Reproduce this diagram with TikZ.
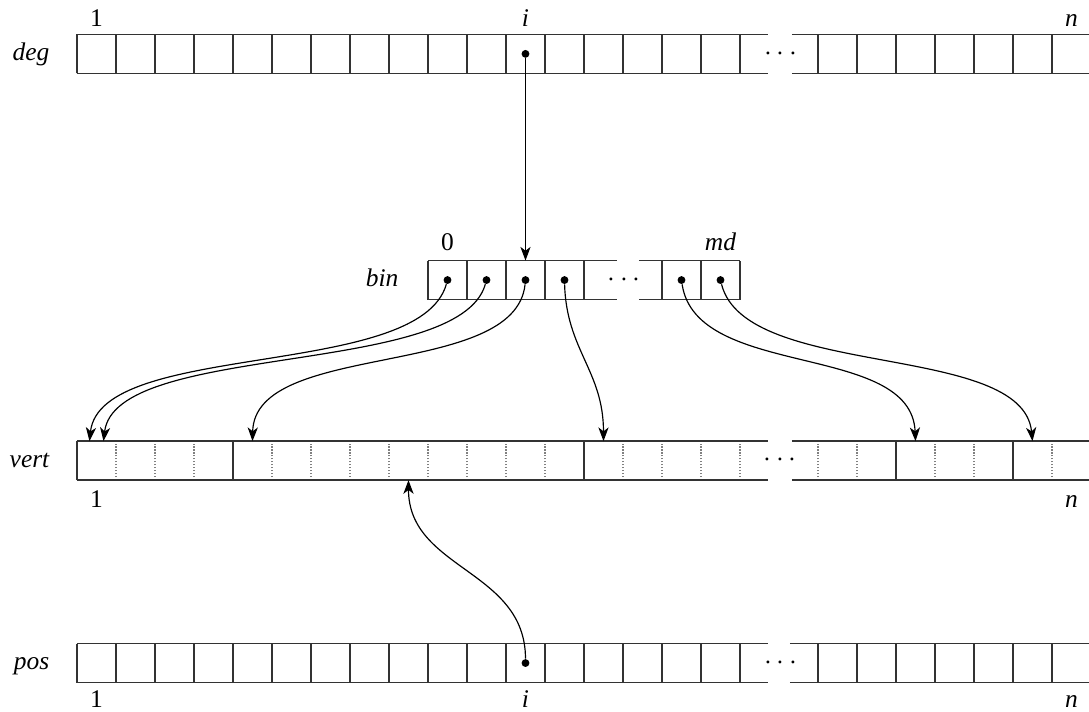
\documentclass[tikz,border=0pt]{standalone}
\usepackage{fontspec}
\setmainfont{Liberation Serif}
\usetikzlibrary{arrows.meta}
\begin{document}
\begin{tikzpicture}[
  arrlabel/.style={anchor=base east, inner sep=0pt, font=\fontsize{13}{15}\selectfont\itshape},
  idxlabel/.style={anchor=base, inner sep=0pt, font=\fontsize{13}{15}\selectfont},
  ptrdot/.style={circle, fill=black, inner sep=0pt, minimum size=4pt},
  ptr/.style={draw=black, line width=0.6pt, -{Stealth[length=7pt,width=5.2pt,inset=2pt]}},
  gapdots/.style={inner sep=0pt, font=\fontsize{14}{16}\selectfont}
]
% Cell arrays deg, bin, vert, pos; one unit is one cell
\def\cellsz{0.7cm}
\providecommand{\arrLineColor}{black!80}
\providecommand{\arrSepColor}{black!50}
\providecommand{\arrLineWidth}{0.8pt}
\begin{scope}[x=\cellsz, y=\cellsz, line cap=butt, line join=miter]
  \useasboundingbox (-1.974,0) rectangle (25.949,18.231);
  % deg
  \begin{scope}[draw=\arrLineColor, line width=\arrLineWidth, shift={(0,16.35)}]
    \draw[step=1] (0,0) grid (17,1);
    \draw (17,0) -- (17.72,0) (17,1) -- (17.72,1);
    \draw (18.33,0) -- (19,0) (18.33,1) -- (19,1);
    \draw[step=1] (19,0) grid (26,1);
  \end{scope}
  % bin
  \begin{scope}[draw=\arrLineColor, line width=\arrLineWidth, shift={(0,10.55)}]
    \draw[step=1] (9,0) grid (13,1);
    \draw (13,0) -- (13.85,0) (13,1) -- (13.85,1);
    \draw (14.41,0) -- (15,0) (14.41,1) -- (15,1);
    \draw[step=1] (15,0) grid (17,1);
  \end{scope}
  % vert: dotted cells, solid bucket borders
  \begin{scope}[shift={(0,5.92)}]
    \draw[step=1, draw=\arrSepColor, line width=0.55pt, dash pattern=on 0.6pt off 0.9pt] (0,0.08) grid (17,0.92);
    \draw[step=1, draw=\arrSepColor, line width=0.55pt, dash pattern=on 0.6pt off 0.9pt] (19,0.08) grid (26,0.92);
    \begin{scope}[draw=\arrLineColor, line width=\arrLineWidth]
      \draw (0,0) -- (17.72,0) (0,1) -- (17.72,1);
      \draw (18.33,0) -- (26,0) (18.33,1) -- (26,1);
      \draw (0,0) -- (0,1) (4,0) -- (4,1) (13,0) -- (13,1) (21,0) -- (21,1) (24,0) -- (24,1);
    \end{scope}
  \end{scope}
  % pos
  \begin{scope}[draw=\arrLineColor, line width=\arrLineWidth, shift={(0,0.73)}]
    \draw[step=1] (0,0) grid (17,1);
    \draw (17,0) -- (17.72,0) (17,1) -- (17.72,1);
    \draw (18.28,0) -- (19,0) (18.28,1) -- (19,1);
    \draw[step=1] (19,0) grid (26,1);
  \end{scope}
  % Names and indices
  \node[arrlabel] (degname) at (-0.7,16.68) {deg};
  \node[arrlabel] (binname) at (8.25,10.88) {bin};
  \node[arrlabel] (vertname) at (-0.7,6.25) {vert};
  \node[arrlabel] (posname) at (-0.7,1.06) {pos};
  \node[idxlabel] (degfirst) at (0.5,17.55) {1};
  \node[idxlabel] (degidx) at (11.5,17.55) {\itshape i};
  \node[idxlabel] (deglast) at (25.5,17.55) {\itshape n};
  \node[idxlabel] (binfirst) at (9.5,11.8) {0};
  \node[idxlabel] (binlast) at (16.5,11.8) {\itshape md};
  \node[idxlabel] (vertfirst) at (0.5,5.21) {1};
  \node[idxlabel] (vertlast) at (25.5,5.21) {\itshape n};
  \node[idxlabel] (posfirst) at (0.5,0.08) {1};
  \node[idxlabel] (posidx) at (11.5,0.08) {\itshape i};
  \node[idxlabel] (poslast) at (25.5,0.08) {\itshape n};
  % Gaps
  \node[gapdots] (deggap) at (18.05,16.85) {$\cdots$};
  \node[gapdots] (bingap) at (14.03,11.05) {$\cdots$};
  \node[gapdots] (vertgap) at (18.03,6.42) {$\cdots$};
  \node[gapdots] (posgap) at (18.05,1.23) {$\cdots$};
  % Pointer cells
  \node[ptrdot] (degi) at (11.5,16.85) {};
  \node[ptrdot] (bin0) at (9.5,11.05) {};
  \node[ptrdot] (bin1) at (10.5,11.05) {};
  \node[ptrdot] (bin2) at (11.5,11.05) {};
  \node[ptrdot] (bin3) at (12.5,11.05) {};
  \node[ptrdot] (binmm) at (15.5,11.05) {};
  \node[ptrdot] (binmd) at (16.5,11.05) {};
  \node[ptrdot] (posi) at (11.5,1.23) {};
  \coordinate (bintop) at (11.5,11.55);
  \coordinate (vt0) at (0.32,6.92);
  \coordinate (vt1) at (0.68,6.92);
  \coordinate (vt2) at (4.5,6.92);
  \coordinate (vt3) at (13.5,6.92);
  \coordinate (vt4) at (21.5,6.92);
  \coordinate (vt5) at (24.5,6.92);
  \coordinate (vb) at (8.5,5.92);
  % Pointers
  \draw[ptr] (degi) -- (bintop);
  \draw[ptr] (bin0) .. controls +(-0.72,-2.56) and +(0.28,2.59) .. (vt0);
  \draw[ptr] (bin1) .. controls +(-0.7,-2.5) and +(0.3,2.55) .. (vt1);
  \draw[ptr] (bin2) .. controls +(-0.26,-2.56) and +(0.05,2.59) .. (vt2);
  \draw[ptr] (bin3) .. controls +(0.05,-1.8) and +(0,1.8) .. (vt3);
  \draw[ptr] (binmm) .. controls +(0.38,-2.56) and +(-0.1,2.56) .. (vt4);
  \draw[ptr] (binmd) .. controls +(0.64,-2.56) and +(-0.25,2.56) .. (vt5);
  \draw[ptr] (posi) .. controls +(0,2.4) and +(0,-2.3) .. (vb);
\end{scope}
\end{tikzpicture}
\end{document}
